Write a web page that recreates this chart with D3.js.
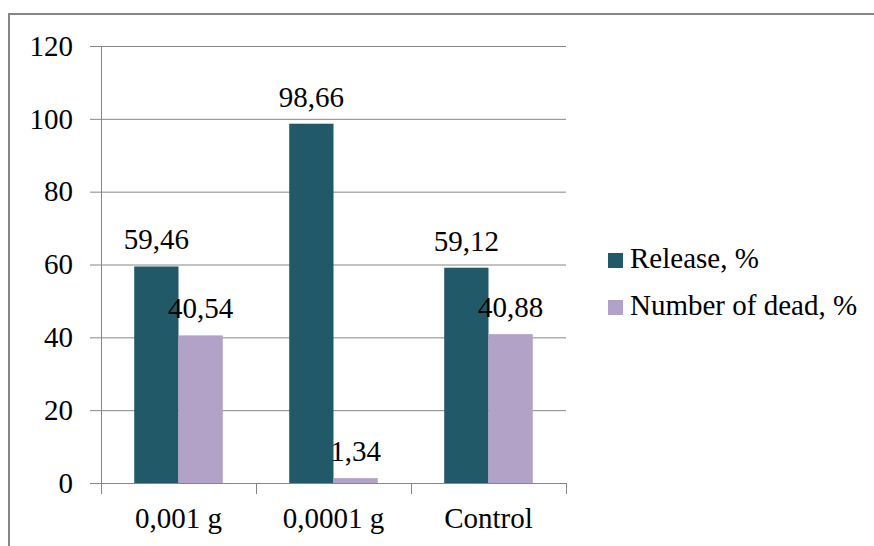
<!DOCTYPE html>
<html>
<head>
<meta charset="utf-8">
<script src="https://cdn.jsdelivr.net/npm/d3@7"></script>
<style>
  svg text { font-family: "Liberation Serif", Tinos, "Times New Roman", serif !important; }
</style>
</head>
<body style="margin:0">
<script>
// categories and series
const categories = ["0,001 g", "0,0001 g", "Control"];
const seriesNames = ["Release, %", "Number of dead, %"];
const releaseValues = [59.46, 98.66, 59.12];
const deadValues = [40.54, 1.34, 40.88];
const yTicks = [0, 20, 40, 60, 80, 100, 120];
const colors = ["#215968", "#b3a2c7"];

const width = 874, height = 546;
const plot = { left: 101, right: 566, top: 46, bottom: 483 };
const serif = '"Liberation Serif", Tinos, "Times New Roman", serif';
const fs = 29;

const svg = d3.select("body").append("svg")
    .attr("width", width)
    .attr("height", height)
    .style("display", "block")
    .style("font-family", serif, "important");

// serif text helper
function serifText(sel) {
    return sel.style("font-family", serif, "important")
        .attr("font-size", fs)
        .attr("fill", "#000");
}

// outer frame (runs off the right and bottom edge)
svg.append("rect")
    .attr("x", 9).attr("y", 14)
    .attr("width", 900).attr("height", 600)
    .attr("fill", "#fff")
    .attr("stroke", "#868686")
    .attr("stroke-width", 2);

const x = d3.scaleBand()
    .domain(categories)
    .range([plot.left, plot.right]);

const x1 = d3.scaleBand()
    .domain(seriesNames)
    .range([0, x.bandwidth()])
    .paddingOuter(0.75)
    .paddingInner(0);

const y = d3.scaleLinear()
    .domain([0, 120])
    .range([plot.bottom, plot.top]);

// y axis
const yAxis = svg.append("g")
    .attr("transform", `translate(${plot.left},0)`)
    .call(d3.axisLeft(y).tickValues(yTicks).tickSize(11).tickPadding(17));
yAxis.attr("font-family", null).attr("font-size", null);
yAxis.select(".domain").attr("stroke", "#868686");
yAxis.selectAll(".tick line").attr("stroke", "#868686");
serifText(yAxis.selectAll(".tick text"));

// gridlines
svg.append("g")
    .selectAll("line")
    .data(yTicks.filter(d => d > 0))
    .join("line")
    .attr("x1", plot.left).attr("x2", plot.right)
    .attr("y1", d => y(d) + 0.5).attr("y2", d => y(d) + 0.5)
    .attr("stroke", "#868686");

// bars
const rows = categories.map((c, i) => ({
    cat: c,
    vals: [
        { name: seriesNames[0], v: releaseValues[i], color: colors[0] },
        { name: seriesNames[1], v: deadValues[i], color: colors[1] }
    ]
}));

const groups = svg.append("g")
    .selectAll("g")
    .data(rows)
    .join("g")
    .attr("transform", d => `translate(${x(d.cat)},0)`);

groups.selectAll("rect")
    .data(d => d.vals)
    .join("rect")
    .attr("x", d => x1(d.name))
    .attr("y", d => y(d.v))
    .attr("width", x1.bandwidth())
    .attr("height", d => plot.bottom - y(d.v))
    .attr("fill", d => d.color);

serifText(groups.selectAll("text")
    .data(d => d.vals)
    .join("text")
    .attr("x", d => x1(d.name) + x1.bandwidth() / 2)
    .attr("y", d => y(d.v) - 17)
    .attr("text-anchor", "middle"))
    .text(d => d3.format(".2f")(d.v).replace(".", ","));

// x axis
const xAxis = svg.append("g")
    .attr("transform", `translate(0,${plot.bottom})`)
    .call(d3.axisBottom(x).tickSize(0).tickPadding(24));
xAxis.attr("font-family", null).attr("font-size", null);
xAxis.select(".domain").attr("stroke", "#868686");
serifText(xAxis.selectAll(".tick text"));

// category separators
const sep = [plot.left, ...categories.map(c => x(c) + x.bandwidth())];
svg.append("g")
    .selectAll("line")
    .data(sep)
    .join("line")
    .attr("x1", d => Math.round(d) + 0.5).attr("x2", d => Math.round(d) + 0.5)
    .attr("y1", plot.bottom).attr("y2", plot.bottom + 11)
    .attr("stroke", "#868686");

// legend
const legend = svg.append("g")
    .selectAll("g")
    .data(seriesNames)
    .join("g")
    .attr("transform", (d, i) => `translate(608,${253 + i * 47})`);

legend.append("rect")
    .attr("width", 15).attr("height", 15)
    .attr("fill", (d, i) => colors[i]);

serifText(legend.append("text")
    .attr("x", 22)
    .attr("y", 15))
    .text(d => d);
</script>
</body>
</html>
